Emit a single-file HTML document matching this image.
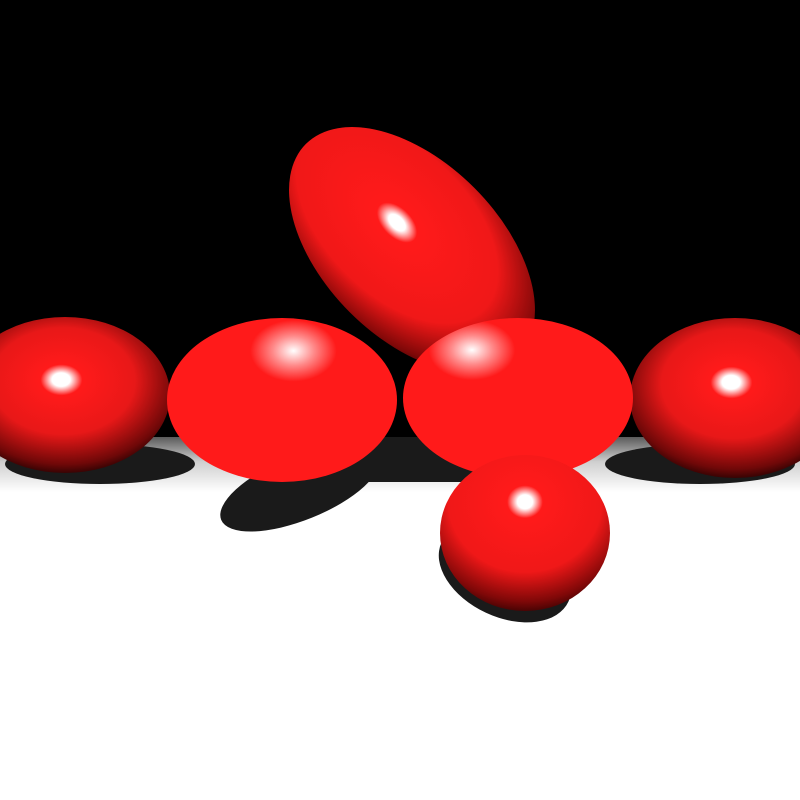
<!DOCTYPE html>
<html><head><meta charset="utf-8"><style>html,body{margin:0;padding:0;background:#000}svg{display:block}</style></head>
<body>
<svg width="800" height="800" viewBox="0 0 800 800">
<defs>
<linearGradient id="floor" x1="0" y1="0" x2="0" y2="1">
<stop offset="0" stop-color="#5a5a5a"/><stop offset="0.45" stop-color="#cfcfcf"/><stop offset="1" stop-color="#fff"/>
</linearGradient>
<radialGradient id="gL" cx="0.5" cy="0.42" r="0.62" fx="0.48" fy="0.4">
<stop offset="0" stop-color="#fff"/><stop offset="0.07" stop-color="#fff"/><stop offset="0.16" stop-color="#ff1a1a"/><stop offset="0.55" stop-color="#e81818"/><stop offset="0.85" stop-color="#700808"/><stop offset="1" stop-color="#100000"/>
</radialGradient>
<radialGradient id="gFlat1" cx="0.55" cy="0.2" r="0.75">
<stop offset="0" stop-color="#fff"/><stop offset="0.12" stop-color="#ff8a8a"/><stop offset="0.25" stop-color="#ff1a1a"/><stop offset="1" stop-color="#ff1a1a"/>
</radialGradient>
<radialGradient id="gFlat2" cx="0.3" cy="0.2" r="0.75">
<stop offset="0" stop-color="#fff"/><stop offset="0.12" stop-color="#ff8a8a"/><stop offset="0.25" stop-color="#ff1a1a"/><stop offset="1" stop-color="#ff1a1a"/>
</radialGradient>
<radialGradient id="gTop" cx="0.4" cy="0.45" r="0.68">
<stop offset="0" stop-color="#fff"/><stop offset="0.05" stop-color="#fff"/><stop offset="0.12" stop-color="#ff1a1a"/><stop offset="0.6" stop-color="#f01818"/><stop offset="0.85" stop-color="#800808"/><stop offset="1" stop-color="#100000"/>
</radialGradient>
<radialGradient id="gBot" cx="0.5" cy="0.3" r="0.75">
<stop offset="0" stop-color="#fff"/><stop offset="0.06" stop-color="#fff"/><stop offset="0.14" stop-color="#ff1a1a"/><stop offset="0.6" stop-color="#f01818"/><stop offset="0.85" stop-color="#800808"/><stop offset="1" stop-color="#200000"/>
</radialGradient>
</defs>
<rect x="0" y="0" width="800" height="437" fill="#000"/>
<rect x="0" y="437" width="800" height="363" fill="#fff"/>
<rect x="0" y="437" width="800" height="55" fill="url(#floor)"/>
<g fill="#1a1a1a">
<ellipse cx="100" cy="464" rx="95" ry="20"/>
<ellipse cx="700" cy="464" rx="95" ry="20"/>
<ellipse cx="300" cy="488" rx="85" ry="32" transform="rotate(-22 300 488)"/>
<rect x="260" y="437" width="280" height="45"/>
<ellipse cx="505" cy="572" rx="70" ry="45" transform="rotate(25 505 572)"/>
</g>
<ellipse cx="412" cy="250" rx="150" ry="88" transform="rotate(45 412 250)" fill="url(#gTop)"/>
<ellipse cx="65" cy="395" rx="105" ry="78" fill="url(#gL)"/>
<ellipse cx="735" cy="398" rx="105" ry="80" fill="url(#gL)"/>
<ellipse cx="282" cy="400" rx="115" ry="82" fill="url(#gFlat1)"/>
<ellipse cx="518" cy="398" rx="115" ry="80" fill="url(#gFlat2)"/>
<ellipse cx="525" cy="533" rx="85" ry="78" fill="url(#gBot)"/>
</svg>
</body></html>
